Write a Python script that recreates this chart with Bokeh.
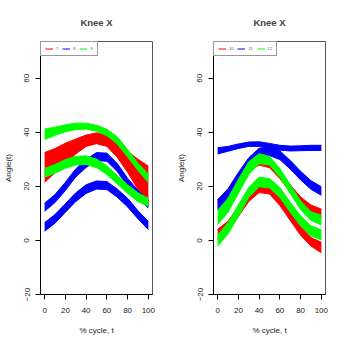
from bokeh.plotting import figure
from bokeh.layouts import row
from bokeh.models import Legend, LegendItem, FixedTicker, Range1d
from bokeh.embed import file_html
from bokeh.resources import INLINE

# % cycle sample points
T = [0, 10, 20, 30, 40, 50, 60, 70, 80, 90, 100]

# ---- left panel: subjects 7 (red), 8 (blue), 9 (green); band upper / lower edges ----
r7_hi = [32.5, 34, 36, 37.5, 39, 39.8, 39, 36.5, 33, 30, 27.5]
r7_lo = [21.5, 25, 28.5, 32, 34.8, 35.8, 34.8, 30.8, 25.2, 18.8, 12.5]

b8a_hi = [13.8, 17, 21.5, 26.5, 30, 32.5, 32.3, 28.5, 23, 18.5, 15]
b8a_lo = [10.8, 14, 18.5, 23.5, 27, 29.5, 29.3, 25.5, 20, 15.5, 12]
b8b_hi = [6.6, 9.6, 13.6, 17.6, 20.6, 22, 21.8, 19, 15.6, 11, 7]
b8b_lo = [3.4, 6.4, 10.4, 14.4, 17.4, 19, 18.8, 16, 12.4, 8, 4]

g9a_hi = [41.2, 41.9, 42.8, 43.4, 43.4, 42.6, 41.1, 38.4, 33.6, 28.6, 24.6]
g9a_lo = [37.3, 38.9, 40.2, 41, 41.2, 40.4, 38.7, 35.7, 30.9, 25.9, 21.4]
g9b_hi = [26.6, 28.1, 29.9, 31.1, 31.3, 30.1, 27.6, 24.1, 20.6, 17.6, 15.6]
g9b_lo = [23.4, 24.9, 26.7, 27.9, 28.1, 26.9, 24.4, 20.9, 17.4, 14.4, 12.6]

# ---- right panel: subjects 10 (red), 11 (blue), 12 (green) ----
r10a_hi = [15.1, 17.6, 22.6, 28.1, 30.6, 29.6, 25.6, 20.6, 16.1, 13.1, 11.6]
r10a_lo = [12.4, 14.9, 19.9, 25.4, 27.9, 26.9, 22.9, 17.9, 13.4, 10.4, 8.4]
r10b_hi = [4.1, 7.1, 12.6, 17.6, 20.6, 20.1, 16.1, 10.6, 5.1, 1.1, -0.7]
r10b_lo = [0.4, 3.4, 8.9, 14.4, 17.7, 17.2, 12.9, 7.4, 1.9, -2.1, -4.6]

b11a_hi = [34.3, 34.8, 35.7, 36.4, 36.5, 35.9, 35.2, 34.9, 35, 35.2, 35.2]
b11a_lo = [32, 33, 34, 34.8, 34.8, 34.1, 33.4, 33.1, 33.2, 33.3, 33.3]
b11b_hi = [15.1, 19.1, 25.1, 30.6, 34.1, 34.6, 33.1, 29.6, 25.6, 22.1, 19.9]
b11b_lo = [11.4, 15.4, 21.4, 26.9, 30.7, 31.4, 29.9, 26.4, 22.4, 18.9, 16.7]

g12a_hi = [11.1, 15.6, 22.6, 29.1, 32.1, 31.1, 26.6, 20.6, 14.6, 10.6, 9.3]
g12a_lo = [5.9, 10.4, 17.4, 24.4, 28.4, 27.9, 23.4, 17.4, 11.4, 7.4, 5.7]
g12b_hi = [2.1, 6.6, 13.1, 19.6, 23.4, 22.9, 19.6, 14.1, 9.1, 5.4, 3.9]
g12b_lo = [-2.1, 2.4, 8.9, 15.9, 19.9, 19.4, 15.9, 10.4, 5.4, 1.7, 0.2]

x_ticks = [0, 20, 40, 60, 80, 100]
y_ticks = [-20, 0, 20, 40, 60]
titles = ["Knee X", "Knee X"]
left_labels = ["7", "8", "9"]
right_labels = ["10", "11", "12"]
colors = ["#FF0000", "#0000FF", "#00FF00"]

FONT = "Liberation Sans"


def make_panel(title, groups, labels, bl, br):
    p = figure(width=bl + 112 + br, height=338, output_backend="svg",
               toolbar_location=None,
               x_range=Range1d(-4, 104), y_range=Range1d(-20, 73.6),
               min_border_left=bl, min_border_right=br,
               min_border_top=40, min_border_bottom=44,
               background_fill_color="white", border_fill_color="white")
    p.title.text = title
    p.title.align = "center"
    p.title.vertical_align = "bottom"
    p.title.standoff = 28
    p.title.text_font = FONT
    p.title.text_font_size = "9.5px"
    p.title.text_font_style = "bold"
    p.xgrid.visible = False
    p.ygrid.visible = False
    p.outline_line_color = "#555555"
    p.outline_line_width = 1

    items = []
    for bands, lab, col in zip(groups, labels, colors):
        key = None
        for hi, lo in bands:
            p.varea(x=T, y1=lo, y2=hi, fill_color=col, fill_alpha=1.0)
            r_hi = p.line(T, hi, line_color=col, line_width=1)
            p.line(T, lo, line_color=col, line_width=1)
            if key is None:
                key = r_hi
        items.append(LegendItem(label=lab, renderers=[key]))

    for ax in (p.xaxis[0], p.yaxis[0]):
        ax.axis_line_color = "black"
        ax.major_tick_line_color = "black"
        ax.major_tick_out = 5
        ax.major_tick_in = 0
        ax.minor_tick_line_color = None
        ax.major_label_text_font = FONT
        ax.major_label_text_font_size = "8px"
        ax.major_label_text_color = "#222222"
        ax.axis_label_text_font = FONT
        ax.axis_label_text_font_size = "8px"
        ax.axis_label_text_font_style = "normal"
        ax.axis_label_text_color = "#222222"
    p.xaxis.ticker = FixedTicker(ticks=x_ticks)
    p.yaxis.ticker = FixedTicker(ticks=y_ticks)
    p.yaxis.major_label_orientation = "vertical"
    p.xaxis.axis_label = "% cycle, t"
    p.yaxis.axis_label = "Angle(t)"
    p.xaxis.major_label_standoff = 8
    p.xaxis.axis_label_standoff = 10
    p.yaxis.major_label_standoff = 6
    p.yaxis.axis_label_standoff = 9

    legend = Legend(items=items,
                    location="top_left", orientation="horizontal",
                    margin=0, padding=4, spacing=4,
                    glyph_width=8, glyph_height=3, label_height=3,
                    label_width=2, label_standoff=3,
                    label_text_font_size="4px",
                    label_text_font=FONT, label_text_color="#555555",
                    border_line_color="#333333", border_line_width=1,
                    background_fill_alpha=1.0)
    p.add_layout(legend)
    return p


left = make_panel(titles[0],
                  [[(r7_hi, r7_lo)], [(b8a_hi, b8a_lo), (b8b_hi, b8b_lo)],
                   [(g9a_hi, g9a_lo), (g9b_hi, g9b_lo)]],
                  left_labels, 40, 21)
right = make_panel(titles[1],
                   [[(r10a_hi, r10a_lo), (r10b_hi, r10b_lo)],
                    [(b11a_hi, b11a_lo), (b11b_hi, b11b_lo)],
                    [(g12a_hi, g12a_lo), (g12b_hi, g12b_lo)]],
                   right_labels, 40, 13)

layout = row(left, right)
open("out.html", "w").write(file_html(layout, INLINE))
